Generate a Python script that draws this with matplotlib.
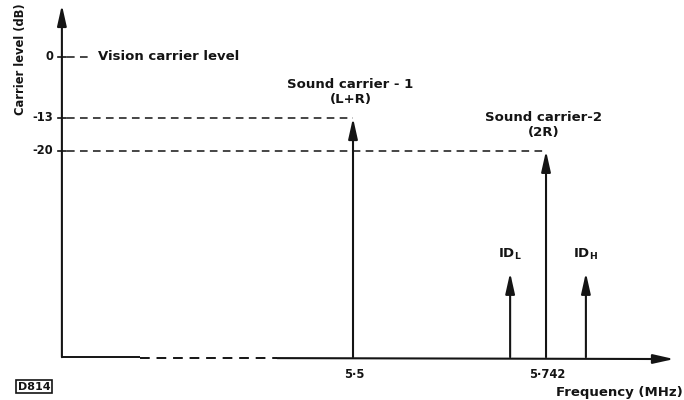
import matplotlib
matplotlib.use("Agg")
import matplotlib.pyplot as plt

# Carrier levels in dB relative to the vision carrier, frequencies in MHz
carrier_names = ["Sound carrier - 1\n(L+R)", "Sound carrier-2\n(2R)"]
carrier_freqs = [5.5, 5.742]
carrier_levels = [-13, -20]

ident_names = ["ID$_{\\mathregular{L}}$", "ID$_{\\mathregular{H}}$"]
ident_freqs = [5.697, 5.792]
ident_level = -46

level_ticks = [0, -13, -20]
freq_ticks = [5.5, 5.742]
freq_tick_labels = ["5·5", "5·742"]

BASE = -64.0      # dB level where the frequency axis sits
F0 = 5.135        # frequency where the level axis sits
F_END = 5.9025
DB_TOP = 11.1

plt.rcParams["font.family"] = ["DejaVu Sans"]
INK = "#141414"
FS = 9.5
FW = "bold"

fig = plt.figure(figsize=(6.84, 4.0), dpi=100)
ax = fig.add_axes([0, 0, 1, 1])
ax.set_xlim(5.0574, 5.9150)
ax.set_ylim(-73.13, 12.15)
ax.axis("off")

head = dict(arrowstyle="-|>,head_length=1.25,head_width=0.28",
            color=INK, lw=1.5, shrinkA=0, shrinkB=0)

# level axis
ax.annotate("", xy=(F0, DB_TOP), xytext=(F0, BASE), arrowprops=head)

# frequency axis: solid, a dashed stretch, then solid up to the arrow
ax.plot([F0, 5.233], [BASE, BASE], color=INK, lw=1.4, solid_capstyle="butt")
ax.plot([5.233, 5.405], [BASE - 0.2, BASE - 0.2], color=INK, lw=1.4,
        dashes=(5, 3.5))
ax.annotate("", xy=(F_END, BASE - 0.4), xytext=(5.405, BASE - 0.2),
            arrowprops=head)

# level ticks, labels and dashed reference lines
ends = {0: 5.168, -13: carrier_freqs[0], -20: carrier_freqs[1]}
for lv in level_ticks:
    ax.plot([F0 - 0.005, F0 + 0.005], [lv, lv], color=INK, lw=1.2)
    ax.text(F0 - 0.011, lv, str(lv) if lv == 0 else "-" + str(-lv),
            ha="right", va="center", fontsize=8.3, fontweight=FW, color=INK)
    ax.plot([F0 + 0.006, ends[lv]], [lv, lv], color=INK, lw=1.1,
            dashes=(5, 3.5))

ax.text(5.180, 0, "Vision carrier level", ha="left", va="center",
        fontsize=FS, fontweight=FW, color=INK)

# sound carriers
for name, f, lv in zip(carrier_names, carrier_freqs, carrier_levels):
    ax.annotate("", xy=(f, lv), xytext=(f, BASE), arrowprops=head)
    ax.text(f - 0.003, lv + 2.5, name, ha="center", va="bottom",
            fontsize=FS, fontweight=FW, color=INK, linespacing=1.2)

# identification signals
for name, f in zip(ident_names, ident_freqs):
    ax.annotate("", xy=(f, ident_level), xytext=(f, BASE), arrowprops=head)
    ax.text(f, ident_level + 2.2, name, ha="center", va="bottom",
            fontsize=FS, fontweight=FW, color=INK)

for f, lab in zip(freq_ticks, freq_tick_labels):
    ax.text(f + 0.002, BASE - 2.3, lab, ha="center", va="top",
            fontsize=8.3, fontweight=FW, color=INK)

ax.text(5.913, -71.5, "Frequency (MHz)", ha="right", va="center",
        fontsize=FS, fontweight=FW, color=INK)
ax.text(5.0825, -0.5, "Carrier level (dB)", rotation=90, ha="center",
        va="center", fontsize=8.3, fontweight=FW, color=INK)

ax.text(5.0795, -70.3, "D814", ha="left", va="center", fontsize=8,
        color=INK, fontweight="bold",
        bbox=dict(boxstyle="square,pad=0.15", fc="white", ec=INK, lw=1.2))

fig.savefig("out.png", dpi=100)
